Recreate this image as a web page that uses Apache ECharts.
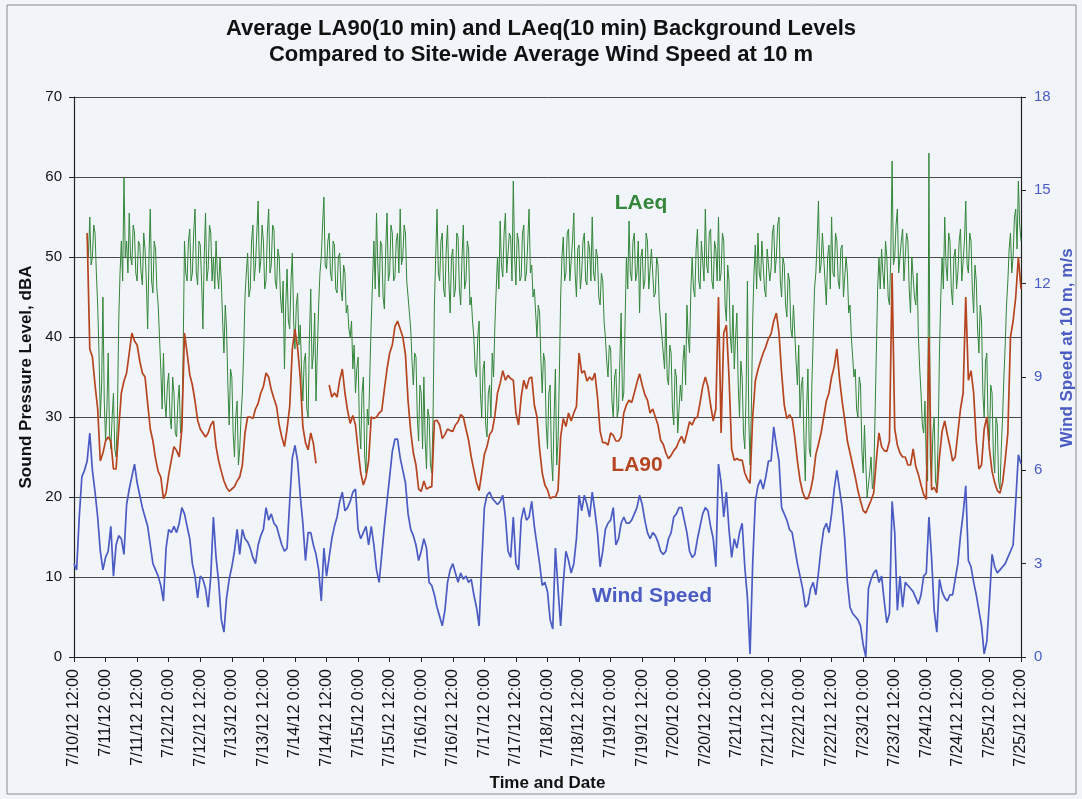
<!DOCTYPE html>
<html>
<head>
<meta charset="utf-8">
<script src="https://cdn.jsdelivr.net/npm/echarts@6/dist/echarts.min.js"></script>
<style>
  html, body { margin: 0; padding: 0; background: #f1f4f9; }
  #chart { width: 1082px; height: 799px; }
</style>
</head>
<body>
<div id="chart"></div>
<script>
// hourly readings, hour 0 = 7/10/12 12:00
var windSpeed = [
  3.0, 2.8, 4.5, 5.8, 6.0, 6.3, 7.2, 6.0, 5.3, 4.5,
  3.4, 2.8, 3.2, 3.4, 4.2, 2.6, 3.6, 3.9, 3.8, 3.3,
  4.9, 5.4, 5.8, 6.2, 5.6, 5.2, 4.8, 4.5, 4.2, 3.6,
  3.0, 2.8, 2.6, 2.3, 1.8, 3.5, 4.1, 4.0, 4.2, 4.0,
  4.3, 4.8, 4.6, 4.2, 3.8, 3.0, 2.6, 1.9, 2.6, 2.5,
  2.2, 1.6, 2.6, 4.5, 3.2, 2.4, 1.2, 0.8, 1.9, 2.5,
  2.9, 3.4, 4.1, 3.3, 4.1, 3.8, 3.7, 3.5, 3.2, 3.0,
  3.6, 3.9, 4.1, 4.8, 4.4, 4.6, 4.3, 4.2, 3.9, 3.6,
  3.4, 3.5, 5.0, 6.4, 6.8, 6.3, 5.2, 4.3, 3.1, 4.0,
  4.0, 3.6, 3.3, 2.8, 1.8, 3.5, 2.6, 3.2, 3.8, 4.2,
  4.5, 5.0, 5.3, 4.7, 4.8, 5.0, 5.3, 5.4, 4.1, 3.8,
  4.0, 4.2, 3.6, 4.2, 3.6, 2.8, 2.4, 3.3, 4.2, 5.0,
  5.8, 6.6, 7.0, 7.0, 6.4, 6.0, 5.6, 4.6, 4.1, 3.9,
  3.6, 3.1, 3.4, 3.8, 3.5, 2.4, 2.3, 2.0, 1.6, 1.3,
  1.0, 1.5, 2.4, 2.8, 3.0, 2.7, 2.4, 2.7, 2.5, 2.6,
  2.4, 2.5, 2.0, 1.6, 1.0, 3.0, 4.8, 5.2, 5.3, 5.1,
  5.0, 4.9, 5.0, 5.2, 4.5, 3.4, 3.2, 4.5, 3.0, 2.8,
  4.4, 4.8, 4.4, 4.5, 5.0, 4.2, 3.6, 3.0, 2.3, 2.4,
  2.1, 1.2, 0.9, 3.5, 2.2, 1.0, 2.4, 3.4, 3.1, 2.7,
  3.0, 3.8, 5.2, 4.7, 5.2, 4.9, 4.5, 5.3, 4.7, 4.0,
  2.9, 3.4, 4.1, 4.3, 4.4, 4.8, 3.6, 3.8, 4.3, 4.5,
  4.3, 4.3, 4.4, 4.6, 4.8, 5.2, 4.9, 4.4, 4.0, 3.8,
  4.0, 3.9, 3.7, 3.4, 3.3, 3.4, 3.8, 4.0, 4.5, 4.6,
  4.8, 4.8, 4.4, 4.0, 3.4, 3.2, 3.3, 3.8, 4.2, 4.6,
  4.8, 4.7, 4.2, 3.8, 2.9, 6.2, 5.6, 4.5, 5.3, 4.1,
  3.2, 3.8, 3.5, 4.0, 4.3, 2.9, 1.9, 0.1, 3.0, 5.0,
  5.5, 5.7, 5.4, 5.8, 6.3, 6.3, 7.4, 6.8, 6.3, 4.8,
  4.6, 4.4, 4.1, 4.0, 3.5, 3.0, 2.6, 2.2, 1.6, 1.7,
  2.2, 2.4, 2.0, 2.7, 3.5, 4.1, 4.3, 4.0, 4.6, 5.4,
  6.0, 5.4, 4.8, 3.8, 2.4, 1.6, 1.4, 1.3, 1.2, 1.0,
  0.4, 0.0, 2.2, 2.5, 2.7, 2.8, 2.4, 2.6, 1.8, 1.1,
  1.4, 5.0, 4.0, 1.5, 2.6, 1.6, 2.4, 2.3, 2.2, 2.1,
  1.9, 1.7, 2.0, 2.6, 2.7, 4.5, 3.2, 1.5, 0.8, 2.5,
  2.1, 1.9, 1.8, 2.0, 2.0, 2.5, 3.0, 3.9, 4.6, 5.5,
  3.1, 2.9, 2.4, 2.0, 1.5, 1.0, 0.1, 0.5, 1.8, 3.3,
  2.9, 2.7, 2.8, 2.9, 3.0, 3.2, 3.4, 3.6, 5.0, 6.5, 6.2
];

// hourly readings
var la90 = [
  null, null, null, null, null, 53.0, 38.5, 37.5, 34.0, 31.0,
  24.5, 25.5, 27.0, 27.5, 27.0, 23.5, 23.5, 28.5, 33.0, 34.5,
  35.5, 38.0, 40.5, 39.5, 39.0, 37.0, 35.5, 35.0, 31.7, 28.5,
  27.0, 24.8, 23.2, 22.5, 19.8, 20.5, 22.8, 24.6, 26.3, 25.8,
  25.0, 28.5, 40.5, 38.0, 35.3, 34.0, 32.0, 29.6, 28.5, 28.0,
  27.5, 28.0, 29.0, 29.5, 26.3, 24.5, 23.2, 22.0, 21.2, 20.7,
  21.0, 21.3, 22.0, 22.5, 24.0, 28.0, 30.0, 30.0, 29.8, 31.0,
  31.7, 33.0, 33.8, 35.5, 35.0, 33.4, 32.3, 31.3, 29.0, 27.5,
  26.3, 28.5, 31.3, 38.5, 41.0, 38.6, 35.0, 28.8, 26.8, 25.9,
  28.0, 26.7, 24.2, null, null, null, null, 34.0, 32.5, 33.0,
  32.5, 34.6, 36.0, 33.0, 30.8, 29.2, 30.2, 29.0, 25.9, 23.0,
  21.5, 22.5, 24.5, 30.0, 29.8, 30.0, 30.5, 30.8, 33.5, 36.0,
  38.0, 39.0, 41.3, 42.0, 41.0, 40.0, 37.8, 32.0, 28.2, 25.5,
  24.0, 21.0, 20.7, 22.0, 21.0, 21.2, 21.3, 29.5, 29.6, 29.0,
  27.3, 27.8, 28.5, 28.3, 28.2, 29.0, 29.4, 30.3, 30.0, 28.5,
  27.1, 25.0, 23.4, 21.8, 20.8, 23.0, 25.3, 26.3, 27.8, 28.3,
  30.2, 33.0, 34.2, 35.8, 34.6, 35.2, 34.8, 34.6, 30.5, 29.0,
  32.5, 34.6, 33.5, 34.8, 35.0, 31.5, 30.0, 26.0, 23.0, 21.5,
  20.9, 19.8, 20.0, 20.0, 20.8, 27.5, 29.8, 28.8, 30.5, 29.5,
  30.5, 31.3, 38.0, 35.5, 35.8, 34.5, 35.0, 34.6, 35.5, 32.5,
  28.2, 26.8, 26.8, 26.5, 28.0, 27.7, 27.0, 27.0, 27.5, 30.5,
  31.5, 32.1, 31.8, 33.0, 34.3, 35.4, 34.0, 32.8, 32.1, 30.5,
  31.0, 30.0, 29.0, 27.1, 26.6, 25.5, 24.8, 25.2, 25.8, 26.2,
  27.0, 27.6, 26.7, 28.0, 29.4, 29.0, 29.8, 30.0, 31.8, 33.8,
  35.0, 33.8, 31.5, 29.5, 31.0, 45.0, 28.0, 40.5, 41.5, 35.0,
  26.0, 24.6, 24.8, 24.6, 24.6, 23.0, 22.2, 21.7, 30.0, 34.5,
  35.9, 37.0, 38.0, 38.8, 39.8, 40.4, 42.0, 43.0, 40.5, 35.5,
  31.5, 29.8, 30.3, 29.8, 27.5, 24.5, 22.1, 20.6, 19.8, 19.8,
  20.8, 22.5, 25.3, 26.6, 28.0, 30.0, 32.0, 33.0, 35.0, 36.3,
  38.5, 34.8, 32.0, 29.6, 27.0, 25.5, 24.0, 22.5, 20.8, 19.5,
  18.3, 18.0, 18.8, 19.6, 20.5, 24.6, 28.0, 26.3, 25.8, 25.7,
  27.0, 48.0, 28.5, 26.5, 25.5, 25.0, 25.0, 24.0, 24.0, 26.0,
  23.8, 22.8, 21.5, 20.3, 19.7, 40.0, 20.9, 21.2, 20.5, 25.0,
  28.2, 29.5, 27.8, 26.3, 24.5, 25.0, 28.0, 31.0, 33.0, 45.0,
  34.6, 35.8, 33.0, 27.0, 23.5, 24.0, 28.5, 30.0, 26.0, 23.2,
  21.8, 20.8, 20.5, 21.8, 24.6, 28.0, 40.0, 42.0, 45.0, 50.0, 46.0
];

// half-hour readings (two per hour)
var laeq = [
  null, null, null, null, null, null, null, null, null, null,
  52.5, 50, 55.0, 49, 50.0, 54, 53.0, 48, 44.0, 38,
  30.0, 34, 45.0, 32, 27.0, 31, 38.0, 28, 26.0, 30, 33.0, 26, 25.0, 30, 42.0, 48, 52.0, 47, 60.0, 50,
  52.0, 48, 55.5, 50, 49.0, 54, 53.0, 48, 47.0, 52, 51.5, 48, 46.5, 53, 51.0, 47, 41.0, 50, 56.0, 47,
  45.5, 52, 51.0, 46, 44.0, 40, 36.0, 31, 38.0, 32, 30.0, 34, 35.5, 30, 28.5, 35, 33.0, 28, 27.5, 32,
  34.0, 28, 29.0, 38, 52.0, 48, 47.0, 52, 53.5, 47, 48.0, 53, 56.0, 48, 46.5, 52, 51.5, 47, 41.0, 50,
  55.5, 47, 48.5, 54, 53.0, 47, 50.0, 46, 52.0, 48, 46.0, 50, 47.0, 42, 38.0, 44, 41.0, 34, 29.0, 36,
  35.0, 28, 25.0, 30, 32.0, 24, 26.0, 30, 33.0, 38, 45.0, 48, 50.5, 45, 46.0, 52, 54.0, 47, 49.0, 53,
  57.0, 48, 49.5, 54, 52.0, 46, 47.0, 53, 56.0, 48, 49.0, 54, 53.5, 47, 46.0, 51, 50.0, 45, 43.0, 47,
  36.0, 44, 48.5, 42, 41.0, 47, 50.5, 42, 38.5, 44, 45.5, 39, 41.5, 36, 32.0, 37, 38.0, 31, 30.0, 40,
  46.0, 36, 38.0, 43, 32.0, 38, 44.0, 48, 50.0, 54, 57.5, 49, 48.5, 52, 53.0, 48, 47.0, 52, 51.5, 46,
  45.5, 50, 50.5, 46, 44.5, 49, 48.0, 43, 44.0, 41, 40.0, 42, 36.0, 39, 33.0, 36, 37.5, 29, 26.0, 33,
  35.0, 25, 23.0, 31, 29.0, 36, 42.0, 47, 52.0, 46, 55.5, 49, 45.0, 52, 51.5, 45, 43.5, 51, 55.5, 47,
  48.0, 54, 53.0, 47, 47.5, 52, 53.0, 48, 56.0, 49, 50.0, 54, 53.0, 47, 45.0, 43, 41.0, 37, 34.0, 38,
  37.5, 30, 27.0, 34, 33.0, 26, 35.0, 27, 23.5, 31, 30.0, 24, 23.0, 30, 44.0, 50, 56.0, 48, 47.0, 52,
  53.0, 46, 45.0, 51, 54.0, 47, 43.0, 50, 51.0, 45, 46.0, 53, 52.5, 46, 44.0, 50, 54.0, 46, 47.0, 52,
  51.0, 44, 45.0, 42, 40.0, 36, 35.0, 40, 42.0, 33, 30.0, 36, 37.0, 29, 27.5, 33, 34.0, 30, 38.0, 35,
  41.5, 46, 50.0, 46, 54.5, 49, 47.5, 53, 55.5, 48, 48.0, 53, 52.5, 47, 59.5, 50, 46.5, 53, 52.0, 47,
  47.5, 53, 54.0, 47, 48.0, 52, 56.0, 48, 49.0, 45, 46.0, 43, 40.0, 44, 43.0, 37, 33.0, 38, 37.0, 29,
  26.0, 33, 34.0, 25, 22.0, 30, 36.0, 24, 27.0, 35, 45.0, 50, 52.5, 47, 48.0, 53, 53.5, 47, 47.0, 52,
  55.5, 48, 45.0, 51, 51.5, 46, 48.0, 52, 53.0, 47, 46.5, 52, 51.0, 47, 55.0, 48, 47.0, 51, 50.0, 45,
  44.0, 48, 47.0, 42, 40.0, 37, 35.0, 39, 38.5, 32, 30.0, 35, 36.0, 30, 31.0, 37, 43.0, 32, 33.0, 42,
  50.0, 46, 54.5, 48, 47.0, 52, 53.0, 47, 48.0, 52, 43.0, 50, 51.0, 46, 47.0, 53, 52.0, 46, 46.0, 51,
  51.0, 45, 45.5, 50, 49.0, 44, 44.0, 40, 40.0, 36, 43.0, 35, 34.0, 39, 38.0, 31, 29.0, 36, 35.0, 28,
  28.0, 34, 32.0, 37, 39.0, 34, 44.0, 40, 38.0, 46, 50.0, 46, 45.0, 51, 53.5, 47, 46.0, 52, 52.0, 47,
  56.0, 49, 48.0, 53, 53.5, 47, 46.0, 52, 51.0, 47, 55.0, 47, 48.0, 53, 52.0, 44, 42.0, 49, 47.0, 40,
  38.0, 44, 36.0, 40, 43.0, 34, 30.0, 37, 35.0, 28, 26.0, 33, 47.0, 30, 24.0, 31, 42.0, 48, 51.5, 46,
  53.0, 48, 47.0, 52, 52.0, 46, 45.0, 51, 51.0, 47, 48.5, 53, 54.0, 48, 50.0, 54, 55.0, 47, 45.0, 50,
  49.0, 44, 42.5, 48, 47.0, 41, 40.0, 44, 44.0, 37, 34.0, 39, 30.0, 34, 35.0, 27, 22.0, 31, 36.0, 26,
  25.0, 34, 40.0, 46, 48.0, 52, 57.0, 48, 49.0, 53, 53.0, 47, 44.0, 50, 51.5, 46, 55.0, 48, 47.5, 53,
  52.0, 47, 46.0, 51, 51.5, 45, 45.0, 50, 48.0, 43, 44.0, 40, 40.0, 35, 36.0, 31, 30.0, 35, 34.0, 26,
  23.0, 29, 24.0, 20, 20.0, 23, 25.0, 21, 22.0, 30, 38.0, 46, 50.0, 46, 51.0, 48, 46.0, 52, 50.0, 45,
  44.0, 50, 62.0, 49, 50.0, 54, 56.0, 48, 48.0, 52, 53.5, 47, 47.0, 53, 52.0, 46, 43.0, 50, 50.0, 45,
  44.0, 48, 40.0, 36, 33.0, 29, 28.0, 32, 24.0, 22, 63.0, 25, 22.0, 28, 30.0, 22, 21.0, 27, 38.0, 45,
  50.0, 46, 55.0, 49, 47.0, 53, 52.0, 46, 44.0, 50, 51.0, 46, 48.0, 52, 53.5, 47, 47.0, 52, 57.0, 49,
  48.0, 53, 52.0, 46, 43.0, 49, 47.0, 41, 38.0, 44, 42.0, 33, 30.0, 37, 38.0, 29, 27.0, 34, 33.0, 25,
  23.0, 30, 29.0, 22, 21.0, 26, 30.0, 35, 39.0, 44, 47.0, 51, 53.0, 48, 50.0, 55, 56.0, 51, 59.5, 54,
  52.0
];

function pairs(arr, step) {
  return arr.map(function (v, i) { return [i * step, v]; });
}

// tick label for an hour offset from 7/10/12 12:00
function hourLabel(h) {
  var day = 10 + Math.floor((12 + h) / 24);
  var hr = (12 + h) % 24;
  return '7/' + day + '/12 ' + hr + ':00';
}

var font = 'Liberation Sans';
var green = '#33863a';
var red = '#b5441f';
var blue = '#4a5bc3';

var chart = echarts.init(document.getElementById('chart'));
var option = {
  backgroundColor: '#f1f4f9',
  animation: false,
  title: {
    text: 'Average LA90(10 min) and LAeq(10 min) Background Levels\nCompared to Site-wide Average Wind Speed at 10 m',
    left: 'center',
    top: 11,
    padding: [5, 5, 5, 19],
    textStyle: { fontFamily: font, fontSize: 22, fontWeight: 'bold', color: '#111', lineHeight: 26 }
  },
  grid: { left: 74, right: 61, top: 97, bottom: 142 },
  xAxis: {
    type: 'value',
    min: 0,
    max: 360,
    interval: 12,
    name: 'Time and Date',
    nameLocation: 'middle',
    nameGap: 114,
    nameTextStyle: { fontFamily: font, fontSize: 17, fontWeight: 'bold', color: '#111' },
    axisLine: { lineStyle: { color: '#222', width: 1.2 } },
    axisTick: { show: true, length: 5, lineStyle: { color: '#222' } },
    splitLine: { show: false },
    axisLabel: {
      rotate: 90,
      margin: 12,
      fontFamily: font,
      fontSize: 16,
      color: '#111',
      formatter: hourLabel
    }
  },
  yAxis: [
    {
      type: 'value',
      min: 0,
      max: 70,
      interval: 10,
      name: 'Sound Pressure Level, dBA',
      nameLocation: 'middle',
      nameRotate: 90,
      nameGap: 36,
      nameTextStyle: { fontFamily: font, fontSize: 17, fontWeight: 'bold', color: '#111' },
      axisLine: { show: true, lineStyle: { color: '#222', width: 1.2 } },
      axisTick: { show: true, length: 5, lineStyle: { color: '#222' } },
      splitLine: { show: true, lineStyle: { color: '#4a4a4a', width: 1 } },
      axisLabel: { fontFamily: font, fontSize: 15, color: '#111', margin: 12 }
    },
    {
      type: 'value',
      min: 0,
      max: 18,
      interval: 3,
      position: 'right',
      axisLine: { show: true, lineStyle: { color: '#222', width: 1.2 } },
      axisTick: { show: true, length: 5, lineStyle: { color: '#222' } },
      splitLine: { show: false },
      axisLabel: { fontFamily: font, fontSize: 15, color: blue, margin: 13 }
    }
  ],
  series: [
    {
      name: 'LAeq',
      type: 'line',
      data: pairs(laeq, 0.5),
      showSymbol: false,
      connectNulls: false,
      lineStyle: { color: green, width: 1 },
      z: 2
    },
    {
      name: 'LA90',
      type: 'line',
      data: pairs(la90, 1),
      showSymbol: false,
      connectNulls: false,
      lineStyle: { color: red, width: 1.7 },
      z: 3
    },
    {
      name: 'Wind Speed',
      type: 'line',
      yAxisIndex: 1,
      data: pairs(windSpeed, 1),
      showSymbol: false,
      lineStyle: { color: blue, width: 1.7 },
      z: 4
    }
  ],
  graphic: [
    {
      type: 'rect',
      shape: { x: 7, y: 5, width: 1069, height: 789 },
      style: { fill: 'none', stroke: '#8a8a8a', lineWidth: 1 },
      silent: true
    },
    {
      type: 'text', x: 1067, y: 348, rotation: Math.PI / 2,
      style: { text: 'Wind Speed at 10 m, m/s', fill: blue, font: 'bold 17px ' + font, textAlign: 'center', textVerticalAlign: 'middle' }
    },
    {
      type: 'text', x: 641, y: 203,
      style: { text: 'LAeq', fill: green, font: 'bold 21px ' + font, textAlign: 'center', textVerticalAlign: 'middle' }
    },
    {
      type: 'text', x: 637, y: 465,
      style: { text: 'LA90', fill: red, font: 'bold 21px ' + font, textAlign: 'center', textVerticalAlign: 'middle' }
    },
    {
      type: 'text', x: 652, y: 596,
      style: { text: 'Wind Speed', fill: blue, font: 'bold 21px ' + font, textAlign: 'center', textVerticalAlign: 'middle' }
    }
  ]
};
chart.setOption(option);
</script>
</body>
</html>
